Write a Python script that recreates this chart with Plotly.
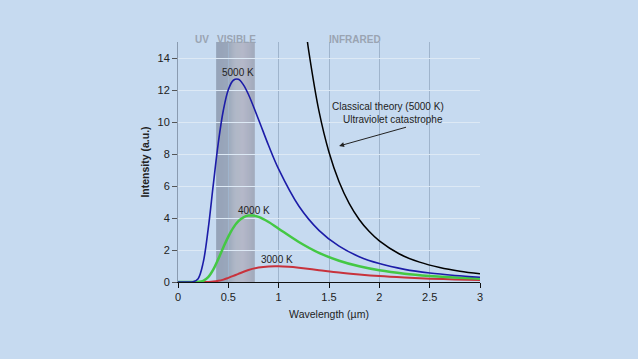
import plotly.graph_objects as go

# ---- data ----
wl_5000 = [0, 0.1, 0.15, 0.2, 0.25, 0.3, 0.35, 0.4, 0.45, 0.5, 0.55, 0.6, 0.65, 0.7, 0.8, 0.9, 1.0,
           1.2, 1.4, 1.6, 1.8, 2.0, 2.25, 2.5, 2.75, 3.0]
int_5000 = [0, 0, 0.01, 0.21, 1.21, 3.32, 6.05, 8.68, 10.72, 12.02, 12.61, 12.67, 12.32, 11.72, 10.16, 8.53, 7.05,
            4.75, 3.23, 2.24, 1.58, 1.15, 0.79, 0.56, 0.41, 0.30]

wl_4000 = [0, 0.15, 0.2, 0.25, 0.3, 0.35, 0.4, 0.45, 0.5, 0.55, 0.6, 0.65, 0.7, 0.75, 0.8, 0.9, 1.0,
           1.2, 1.4, 1.6, 1.8, 2.0, 2.25, 2.5, 2.75, 3.0]
int_4000 = [0, 0, 0.006, 0.07, 0.30, 0.77, 1.43, 2.16, 2.84, 3.40, 3.80, 4.04, 4.15, 4.15, 4.07, 3.75, 3.33,
            2.50, 1.82, 1.33, 0.98, 0.73, 0.52, 0.38, 0.28, 0.21]

wl_3000 = [0, 0.25, 0.3, 0.35, 0.4, 0.45, 0.5, 0.55, 0.6, 0.7, 0.8, 0.9, 1.0, 1.1, 1.2,
           1.4, 1.6, 1.8, 2.0, 2.25, 2.5, 2.75, 3.0]
int_3000 = [0, 0, 0.006, 0.025, 0.072, 0.15, 0.26, 0.38, 0.51, 0.745, 0.90, 0.975, 0.985, 0.95, 0.89,
            0.74, 0.59, 0.47, 0.37, 0.28, 0.21, 0.16, 0.12]

wl_classical = [1.28, 1.3, 1.4, 1.5, 1.6, 1.7, 1.8, 1.9, 2.0, 2.2, 2.4, 2.6, 2.8, 3.0]
int_classical = [15.3, 14.38, 10.69, 8.11, 6.27, 4.92, 3.91, 3.15, 2.57, 1.75, 1.24, 0.90, 0.67, 0.51]

x_ticks = [0, 0.5, 1, 1.5, 2, 2.5, 3]
x_tick_labels = ["0", "0.5", "1", "1.5", "2", "2.5", "3"]
y_ticks = [0, 2, 4, 6, 8, 10, 12, 14]

visible_band = [0.38, 0.76]
region_labels = ["UV", "VISIBLE", "INFRARED"]
region_pos = [0.235, 0.58, 1.76]

curve_labels = ["5000 K", "4000 K", "3000 K"]
curve_label_x = [0.6, 0.75, 0.98]
curve_label_y = [13.1, 4.5, 1.4]

BG = "#c6daf0"
FONT = "Liberation Sans, Arial"

fig = go.Figure()

fig.add_trace(go.Scatter(x=wl_classical, y=int_classical, mode="lines",
                         line=dict(color="#000000", width=1.5, shape="spline"), hoverinfo="skip"))
fig.add_trace(go.Scatter(x=wl_3000, y=int_3000, mode="lines",
                         line=dict(color="#c8323c", width=2, shape="spline"), hoverinfo="skip"))
fig.add_trace(go.Scatter(x=wl_4000, y=int_4000, mode="lines",
                         line=dict(color="#44c844", width=2.5, shape="spline"), hoverinfo="skip"))
fig.add_trace(go.Scatter(x=wl_5000, y=int_5000, mode="lines",
                         line=dict(color="#1c1ca8", width=1.6, shape="spline"), hoverinfo="skip"))

# visible band as gradient stripes
stops = [(0.0, (142, 155, 176)), (0.3, (146, 158, 178)), (0.5, (172, 178, 192)),
         (0.7, (178, 178, 194)), (1.0, (156, 163, 180))]
n = 38
x0, x1 = visible_band
for i in range(n):
    t = (i + 0.5) / n
    for j in range(len(stops) - 1):
        if stops[j][0] <= t <= stops[j + 1][0]:
            a, ca = stops[j]
            b, cb = stops[j + 1]
            f = (t - a) / (b - a)
            c = tuple(int(ca[k] + (cb[k] - ca[k]) * f) for k in range(3))
            break
    fig.add_shape(type="rect", xref="x", yref="paper",
                  x0=x0 + (x1 - x0) * i / n, x1=x0 + (x1 - x0) * (i + 1) / n + 0.002,
                  y0=0, y1=1, fillcolor="rgb(%d,%d,%d)" % c, line=dict(width=0), layer="below")

for lab, xp in zip(region_labels, region_pos):
    fig.add_annotation(x=xp, y=1, xref="x", yref="paper", text="<b>%s</b>" % lab, showarrow=False,
                       yanchor="middle", yshift=3,
                       font=dict(family=FONT, size=10, color="#9aa4b2"))

for lab, xp, yp in zip(curve_labels, curve_label_x, curve_label_y):
    fig.add_annotation(x=xp, y=yp, text=lab, showarrow=False,
                       font=dict(family=FONT, size=10, color="#222222"))

fig.add_annotation(x=2.09, y=10.95, text="Classical theory (5000 K)", showarrow=False,
                   font=dict(family=FONT, size=10, color="#222222"))
fig.add_annotation(x=2.14, y=10.15, text="Ultraviolet catastrophe", showarrow=False,
                   font=dict(family=FONT, size=10, color="#222222"))
fig.add_annotation(x=1.6, y=8.5, ax=2.28, ay=9.7, xref="x", yref="y", axref="x", ayref="y",
                   text="", showarrow=True, arrowhead=2, arrowsize=1, arrowwidth=1, arrowcolor="#222222")

fig.update_layout(
    width=638, height=359,
    margin=dict(l=178, r=158, t=42, b=77),
    paper_bgcolor=BG, plot_bgcolor=BG,
    showlegend=False,
    font=dict(family=FONT, size=11, color="#222222"),
    xaxis=dict(range=[0, 3], tickvals=x_ticks, ticktext=x_tick_labels,
               showgrid=True, gridcolor="#9fb4cc", gridwidth=1,
               showline=True, linecolor="#111111", linewidth=1,
               ticks="outside", ticklen=5, tickcolor="#111111",
               zeroline=False,
               title=dict(text="Wavelength (µm)", font=dict(size=10.5), standoff=8)),
    yaxis=dict(range=[0, 15], tickvals=y_ticks,
               showgrid=True, gridcolor="#dde9f5", gridwidth=1,
               showline=True, linecolor="#8a9bb0", linewidth=1,
               ticks="outside", ticklen=5, tickcolor="#555555",
               zeroline=False,
               title=dict(text="<b>Intensity (a.u.)</b>", font=dict(size=10.5), standoff=5)),
)

fig.write_html("out.html", config={"displayModeBar": False},
               post_script="document.body.style.margin='0';document.body.style.overflow='hidden';")
